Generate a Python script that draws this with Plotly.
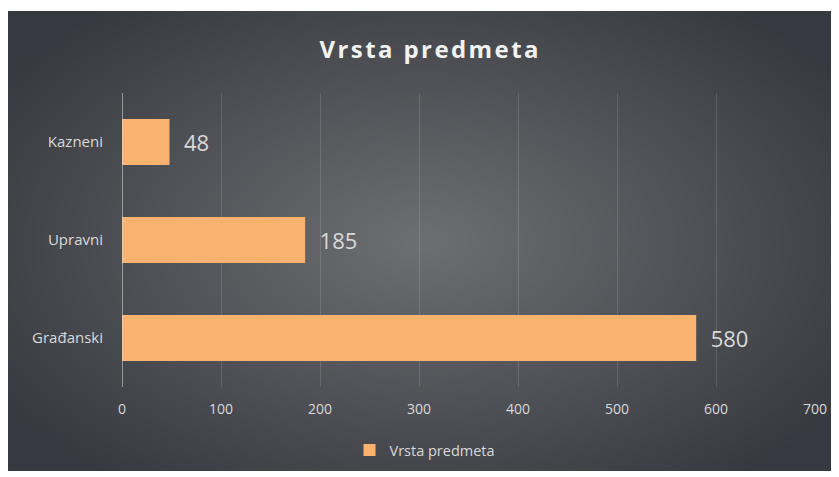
import base64, struct, zlib
import numpy as np
import plotly.graph_objects as go

categories = ["Građanski", "Upravni", "Kazneni"]
values = [580, 185, 48]
series_name = "Vrsta predmeta"
title_text = "Vrsta predmeta"

# page is offset by the 8px body margin
OFF = 8
W, H = 839 - OFF, 477 - OFF
L = 122 - OFF
R = W - (815 - OFF)
T = 93 - OFF
B = H - (387 - OFF)
pw, ph = W - L - R, H - T - B

def make_png(arr):
    h, w, _ = arr.shape
    raw = b"".join(b"\x00" + arr[i].tobytes() for i in range(h))
    def chunk(tag, data):
        c = struct.pack(">I", len(data)) + tag + data
        return c + struct.pack(">I", zlib.crc32(tag + data) & 0xffffffff)
    png = b"\x89PNG\r\n\x1a\n" + chunk(b"IHDR", struct.pack(">IIBBBBB", w, h, 8, 2, 0, 0, 0))
    png += chunk(b"IDAT", zlib.compress(raw, 9)) + chunk(b"IEND", b"")
    return "data:image/png;base64," + base64.b64encode(png).decode()

gw, gh = 412, 230
yy, xx = np.mgrid[0:gh, 0:gw]
cx, cy = gw * 0.50, gh * 0.50
d = np.sqrt(((xx - cx) / (gw * 0.62)) ** 2 + ((yy - cy) / (gh * 0.66)) ** 2)
d = np.clip(d, 0, 1)
c_in = np.array([110, 111, 115], float)
c_out = np.array([54, 57, 63], float)
img = c_in[None, None, :] * (1 - d[..., None]) + c_out[None, None, :] * d[..., None]
img = img.astype(np.uint8)
src = make_png(img)

# page pixel -> paper coords
def px2x(px):
    return (px - OFF - L) / pw
def py2y(py):
    return 1 - (py - OFF - T) / ph

bx0, bx1, by0, by1 = 8, 833, 11, 471

fig = go.Figure()
fig.add_trace(go.Bar(
    y=categories, x=values, orientation="h", name=series_name,
    marker=dict(color="#f9b36e", line=dict(width=0)),
    width=0.47,
    text=["\u00a0\u00a0" + str(v) for v in values], textposition="outside",
    textfont=dict(size=22, color="#d9d9d9", family="Open Sans"),
    cliponaxis=False, showlegend=True,
))

fig.update_layout(
    width=W, height=H,
    margin=dict(l=L, r=R, t=T, b=B, autoexpand=False),
    paper_bgcolor="white", plot_bgcolor="rgba(0,0,0,0)",
    images=[dict(source=src, xref="paper", yref="paper",
                 x=px2x(bx0), y=py2y(by0),
                 sizex=px2x(bx1) - px2x(bx0), sizey=py2y(by0) - py2y(by1),
                 xanchor="left", yanchor="top", sizing="stretch", layer="below")],
    title=dict(text="<b>" + "\u200a".join(list(title_text)) + "</b>",
               x=px2x(429), xref="paper", xanchor="center",
               y=1 - (50 - OFF) / H, yanchor="middle",
               font=dict(size=24, color="#f2f2f2", family="Open Sans")),
    xaxis=dict(range=[0, 700], dtick=100, showgrid=True, gridcolor="rgba(255,255,255,0.13)",
               gridwidth=1, zeroline=False, showline=False, ticks="",
               tickfont=dict(size=14, color="#d9d9d9", family="Open Sans"), ticklabelstandoff=12),
    yaxis=dict(showgrid=False, zeroline=False, showline=False, ticks="",
               tickfont=dict(size=15, color="#d9d9d9", family="Open Sans"), ticklabelstandoff=18),
    shapes=[dict(type="line", xref="x", yref="paper", x0=0, x1=0, y0=0, y1=1.0,
                 line=dict(color="rgba(217,217,217,0.75)", width=1.5))],
    legend=dict(orientation="h", x=px2x(425), xanchor="center",
                y=py2y(450), yanchor="middle", bgcolor="rgba(0,0,0,0)",
                font=dict(size=14.5, color="#d9d9d9", family="Open Sans"),
                itemwidth=30),
    bargap=0.53,
)

fig.write_html("out.html")
